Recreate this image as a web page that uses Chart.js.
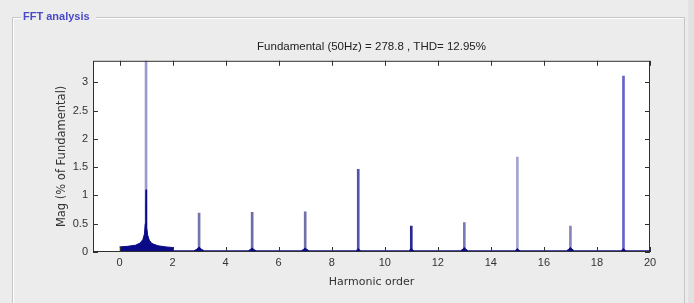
<!DOCTYPE html>
<html>
<head>
  <meta charset="UTF-8">
  <title>FFT analysis</title>
  <script src="https://cdn.jsdelivr.net/npm/chart.js"></script>
  <style>
    html, body { margin: 0; padding: 0; background: #ececec; }
    #wrap { width: 694px; height: 303px; }
  </style>
</head>
<body>
  <div id="wrap"><canvas id="grafico" width="694" height="303"></canvas></div>

  <script>
    // harmonic stems (order, % of fundamental)
    const harmonicOrder = [1, 3, 5, 7, 9, 11, 13, 15, 17, 19];
    const harmonicMag = [100, 0.69, 0.70, 0.71, 1.46, 0.46, 0.52, 1.68, 0.46, 3.11];

    // noise floor of the spectrum
    const floorOrder = [0, 0.3, 0.6, 0.78, 0.88, 0.94, 0.97, 0.99, 1.0, 1.01, 1.03, 1.06, 1.12, 1.22, 1.45, 1.75, 1.99, 2.0,
      2.8, 2.92, 3.0, 3.08, 3.2, 4.85, 4.95, 5.0, 5.05, 5.15, 6.85, 6.95, 7.0, 7.05, 7.15,
      8.9, 8.97, 9.0, 9.03, 9.1, 10.9, 10.96, 11.0, 11.04, 11.1, 12.85, 12.95, 13.0, 13.05, 13.15,
      14.9, 14.96, 15.0, 15.04, 15.1, 16.85, 16.94, 17.0, 17.06, 17.15, 18.9, 18.96, 19.0, 19.04, 19.1, 20];
    const floorMag = [0.09, 0.10, 0.12, 0.16, 0.22, 0.32, 0.50, 0.75, 1.10, 0.75, 0.45, 0.30, 0.21, 0.15, 0.11, 0.09, 0.08, 0.02,
      0.02, 0.05, 0.09, 0.05, 0.02, 0.02, 0.05, 0.07, 0.05, 0.02, 0.02, 0.05, 0.07, 0.05, 0.02,
      0.02, 0.04, 0.06, 0.04, 0.02, 0.02, 0.04, 0.06, 0.04, 0.02, 0.02, 0.05, 0.08, 0.05, 0.02,
      0.02, 0.04, 0.06, 0.04, 0.02, 0.02, 0.05, 0.08, 0.05, 0.02, 0.02, 0.04, 0.06, 0.04, 0.02, 0.02];

    const xTicks = [0, 2, 4, 6, 8, 10, 12, 14, 16, 18, 20];
    const yTicks = [0, 0.5, 1, 1.5, 2, 2.5, 3];

    const titulo = 'Fundamental (50Hz) = 278.8 , THD= 12.95%';
    const stemColors = ['#9a9ad0', '#7474aa', '#6c6cac', '#7070aa', '#5252b0', '#28288e', '#7a7ab6', '#a4a4d0', '#8686bc', '#6464cc'];

    const fonte = { family: 'Liberation Sans, Arial, sans-serif', size: 11 };

    // fundo cinza, caixa de grupo e area branca do grafico
    const moldura = {
      id: 'moldura',
      beforeDraw(chart) {
        const c = chart.ctx, a = chart.chartArea;
        c.save();
        c.fillStyle = '#ececec';
        c.fillRect(0, 0, chart.width, chart.height);
        c.fillStyle = '#e2e2e2';
        c.fillRect(688, 0, 6, chart.height);
        // group box
        c.strokeStyle = '#c6c6c6';
        c.lineWidth = 1;
        c.beginPath();
        c.moveTo(12.5, 303); c.lineTo(12.5, 17.5); c.lineTo(21, 17.5);
        c.moveTo(96, 17.5); c.lineTo(684.5, 17.5); c.lineTo(684.5, 303);
        c.stroke();
        c.strokeStyle = '#ffffff';
        c.beginPath();
        c.moveTo(13.5, 303); c.lineTo(13.5, 18.5); c.lineTo(21, 18.5);
        c.moveTo(96, 18.5); c.lineTo(683.5, 18.5);
        c.stroke();
        c.fillStyle = '#4a4ac8';
        c.font = 'bold 11px Liberation Sans, Arial, sans-serif';
        c.textBaseline = 'middle';
        c.fillText('FFT analysis', 23, 17);
        c.fillStyle = '#ffffff';
        c.fillRect(a.left, a.top, a.right - a.left, a.bottom - a.top);
        c.restore();
      },
      afterDraw(chart) {
        const c = chart.ctx, a = chart.chartArea;
        const sx = chart.scales.x, sy = chart.scales.y;
        c.save();
        c.strokeStyle = '#303030';
        c.lineWidth = 1;
        c.strokeRect(a.left + 0.5, a.top + 0.5, a.right - a.left - 1, a.bottom - a.top - 1);
        c.beginPath();
        sx.ticks.forEach(t => {
          const px = Math.round(sx.getPixelForValue(t.value)) + 0.5;
          c.moveTo(px, a.bottom); c.lineTo(px, a.bottom - 5);
          c.moveTo(px, a.top); c.lineTo(px, a.top + 5);
        });
        sy.ticks.forEach(t => {
          const py = Math.round(sy.getPixelForValue(t.value)) + 0.5;
          c.moveTo(a.left, py); c.lineTo(a.left + 5, py);
          c.moveTo(a.right, py); c.lineTo(a.right - 5, py);
        });
        c.stroke();
        c.restore();
      }
    };

    let ctx = document.getElementById('grafico').getContext('2d');
    let chart = new Chart(ctx, {
      type: 'bar',
      data: {
        datasets: [{
          type: 'line',
          label: 'floor',
          data: floorOrder.map((x, i) => ({ x: x, y: floorMag[i] })),
          borderColor: '#0a0a88',
          backgroundColor: '#0a0a88',
          borderWidth: 1,
          pointRadius: 0,
          fill: 'origin',
          tension: 0,
          order: 1
        }, {
          type: 'bar',
          label: 'harmonicos',
          data: harmonicOrder.map((x, i) => ({ x: x, y: harmonicMag[i] })),
          backgroundColor: stemColors,
          barThickness: 2,
          order: 2
        }]
      },
      options: {
        animation: false,
        responsive: false,
        layout: { padding: { left: 55, right: 44, top: 40, bottom: 14 } },
        plugins: {
          legend: { display: false },
          tooltip: { enabled: false },
          title: {
            display: true,
            text: titulo,
            fullSize: false,
            color: '#222',
            font: { family: fonte.family, size: 11.5, weight: 'normal' },
            padding: { top: 0, bottom: 7 }
          }
        },
        scales: {
          x: {
            type: 'linear',
            min: -1,
            max: 20,
            offset: false,
            grid: { display: false, drawTicks: false },
            border: { display: false },
            afterBuildTicks: s => { s.ticks = xTicks.map(v => ({ value: v })); },
            afterFit: s => { s.height = 37; },
            ticks: { color: '#333', font: fonte, padding: 4, maxRotation: 0, autoSkip: false, callback: v => String(v) },
            title: { display: true, text: 'Harmonic order', color: '#333', font: { family: 'DejaVu Sans, sans-serif', size: 11 }, padding: 0 }
          },
          y: {
            min: 0,
            max: 3.38,
            grid: { display: false, drawTicks: false },
            border: { display: false },
            afterBuildTicks: s => { s.ticks = yTicks.map(v => ({ value: v })); },
            afterFit: s => { s.width = 38; },
            ticks: { color: '#333', font: fonte, padding: 5, autoSkip: false, callback: v => String(v) },
            title: { display: true, text: 'Mag (% of Fundamental)', color: '#333', font: { family: 'DejaVu Sans, sans-serif', size: 11.5 }, padding: 0 }
          }
        }
      },
      plugins: [moldura]
    });
  </script>
</body>
</html>
